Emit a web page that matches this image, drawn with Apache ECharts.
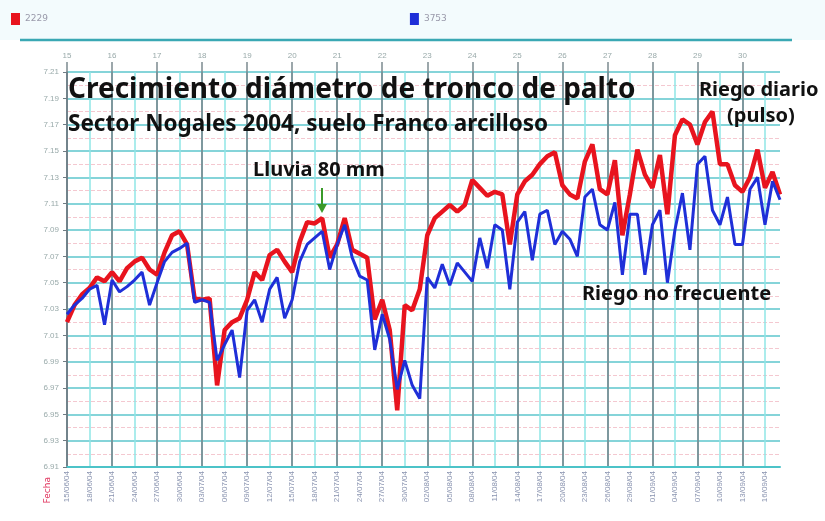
<!DOCTYPE html>
<html>
<head>
<meta charset="utf-8">
<script src="https://cdn.jsdelivr.net/npm/echarts@6/dist/echarts.min.js"></script>
<style>
html,body{margin:0;padding:0;background:#fff}
#main{width:825px;height:521px}
</style>
</head>
<body>
<div id="main"></div>
<script>
// diametro de tronco (mm), una lectura por dia
var red2229 = [
  7.020,7.033,7.041,7.046,7.054,7.051,7.058,7.051,7.061,7.066,7.069,7.060,
  7.056,7.073,7.086,7.089,7.079,7.038,7.037,7.038,6.972,7.014,7.020,7.023,
  7.037,7.058,7.052,7.071,7.075,7.066,7.058,7.081,7.096,7.095,7.099,7.069,
  7.079,7.099,7.075,7.072,7.069,7.022,7.037,7.014,6.953,7.033,7.029,7.045,
  7.086,7.099,7.104,7.109,7.104,7.109,7.128,7.122,7.116,7.119,7.117,7.079,
  7.117,7.127,7.132,7.140,7.146,7.149,7.124,7.117,7.114,7.142,7.155,7.121,
  7.117,7.143,7.086,7.117,7.151,7.132,7.122,7.147,7.102,7.162,7.174,7.170,
  7.155,7.172,7.180,7.140,7.140,7.124,7.119,7.130,7.151,7.122,7.134,7.117
];
var blue3753 = [
  7.026,7.033,7.038,7.045,7.048,7.018,7.052,7.043,7.047,7.052,7.058,7.033,
  7.050,7.066,7.073,7.076,7.080,7.035,7.037,7.035,6.991,7.003,7.014,6.978,
  7.029,7.037,7.020,7.045,7.054,7.023,7.037,7.066,7.079,7.084,7.089,7.060,
  7.079,7.094,7.069,7.055,7.052,6.999,7.026,7.007,6.969,6.991,6.972,6.962,
  7.054,7.046,7.064,7.048,7.065,7.058,7.051,7.084,7.061,7.094,7.090,7.045,
  7.096,7.104,7.067,7.102,7.105,7.079,7.089,7.083,7.070,7.115,7.121,7.094,
  7.090,7.111,7.056,7.102,7.102,7.056,7.094,7.105,7.050,7.090,7.118,7.075,
  7.140,7.146,7.105,7.094,7.115,7.079,7.079,7.121,7.130,7.094,7.127,7.113
];
var topLabels = ['15','16','17','18','19','20','21','22','23','24','25','26','27','28','29','30'];
var yMin = 6.91, yMax = 7.21, yStep = 0.02;

// fechas dd/mm/yy
var fechas = [];
var d0 = new Date(2004, 5, 15);
for (var i = 0; i < red2229.length; i++) {
  var d = new Date(d0.getTime() + i * 86400000);
  var dd = ('0' + d.getDate()).slice(-2), mm = ('0' + (d.getMonth() + 1)).slice(-2);
  fechas.push(dd + '/' + mm + '/04');
}

var myChart = echarts.init(document.getElementById('main'));
var bold = {fontFamily: 'Noto Sans', fontWeight: 'bold', fill: '#111'};

var option = {
  animation: false,
  backgroundColor: '#fff',
  color: ['#e8141e', '#1f2fd8'],
  legend: {
    left: 6, top: 8,
    itemWidth: 9, itemHeight: 12, itemGap: 362,
    icon: 'rect',
    textStyle: {fontSize: 9, color: '#99a', fontFamily: 'DejaVu Sans'},
    data: ['2229', '3753']
  },
  grid: {left: 67, right: 45, top: 72, bottom: 54},
  xAxis: [{
    type: 'category',
    position: 'bottom',
    boundaryGap: false,
    data: fechas,
    axisLine: {lineStyle: {color: '#4cc3c8', width: 2}},
    axisTick: {show: false},
    axisLabel: {interval: 2, rotate: 90, fontSize: 8, color: '#8a94b0', margin: 4},
    splitLine: {show: true, interval: 2, lineStyle: {color: '#8fe6e6', width: 1.5}}
  }, {
    type: 'category',
    position: 'top',
    boundaryGap: false,
    data: fechas,
    axisLine: {show: false},
    axisTick: {show: true, interval: 5, length: 10, lineStyle: {color: '#7c8a90', width: 1.5}},
    axisLabel: {
      interval: 5, fontSize: 8, color: '#9aa', margin: 12,
      formatter: function (v, idx) { return topLabels[Math.round(idx / 6)] || ''; }
    },
    splitLine: {show: true, interval: 5, lineStyle: {color: '#6f7c84', width: 1.5}}
  }],
  yAxis: {
    type: 'value',
    min: yMin, max: yMax, interval: yStep,
    axisLine: {show: true, lineStyle: {color: '#6f7c84', width: 1.5}},
    axisTick: {show: true, length: 4, lineStyle: {color: '#6f7c84'}},
    axisLabel: {fontSize: 8, color: '#9aa', margin: 8,
      formatter: function (v) { return v.toFixed(2); }},
    splitLine: {lineStyle: {color: '#5cc6cc', width: 1.5}},
    minorTick: {show: false, splitNumber: 2},
    minorSplitLine: {show: true, lineStyle: {color: '#f4c8d0', type: 'dashed', width: 1}}
  },
  series: [{
    name: '2229',
    type: 'line',
    data: red2229,
    showSymbol: false,
    lineStyle: {width: 4.5, color: '#e8141e'},
    z: 3
  }, {
    name: '3753',
    type: 'line',
    data: blue3753,
    showSymbol: false,
    lineStyle: {width: 3, color: '#1f2fd8'},
    z: 4
  }],
  graphic: [
    {type: 'rect', left: 0, top: 0, shape: {width: 825, height: 40}, style: {fill: '#f3fbfd'}, z: -1},
    {type: 'line', shape: {x1: 20, y1: 40, x2: 792, y2: 40}, style: {stroke: '#3aa8b4', lineWidth: 2.5}},
    {type: 'text', left: 43, top: 477, rotation: Math.PI / 2,
      style: {text: 'Fecha', fontSize: 9, fill: '#e0305a', fontFamily: 'DejaVu Sans'}},
    {type: 'text', left: 68, top: 76, z: 10,
      style: Object.assign({text: 'Crecimiento diámetro de tronco de palto', fontSize: 28}, bold)},
    {type: 'text', left: 68, top: 113, z: 10,
      style: Object.assign({text: 'Sector Nogales 2004, suelo Franco arcilloso', fontSize: 22.5}, bold)},
    {type: 'text', left: 253, top: 160, z: 10,
      style: Object.assign({text: 'Lluvia 80 mm', fontSize: 20}, bold)},
    {type: 'line', shape: {x1: 322, y1: 188, x2: 322, y2: 206}, style: {stroke: '#3a9a2a', lineWidth: 2}, z: 10},
    {type: 'polygon', shape: {points: [[317, 204], [327, 204], [322, 213]]}, style: {fill: '#3a9a2a'}, z: 10},
    {type: 'text', left: 699, top: 80, z: 10,
      style: Object.assign({text: 'Riego diario', fontSize: 20}, bold)},
    {type: 'text', left: 727, top: 106, z: 10,
      style: Object.assign({text: '(pulso)', fontSize: 20}, bold)},
    {type: 'text', left: 582, top: 284, z: 10,
      style: Object.assign({text: 'Riego no frecuente', fontSize: 20}, bold)}
  ]
};

myChart.setOption(option);
</script>
</body>
</html>
